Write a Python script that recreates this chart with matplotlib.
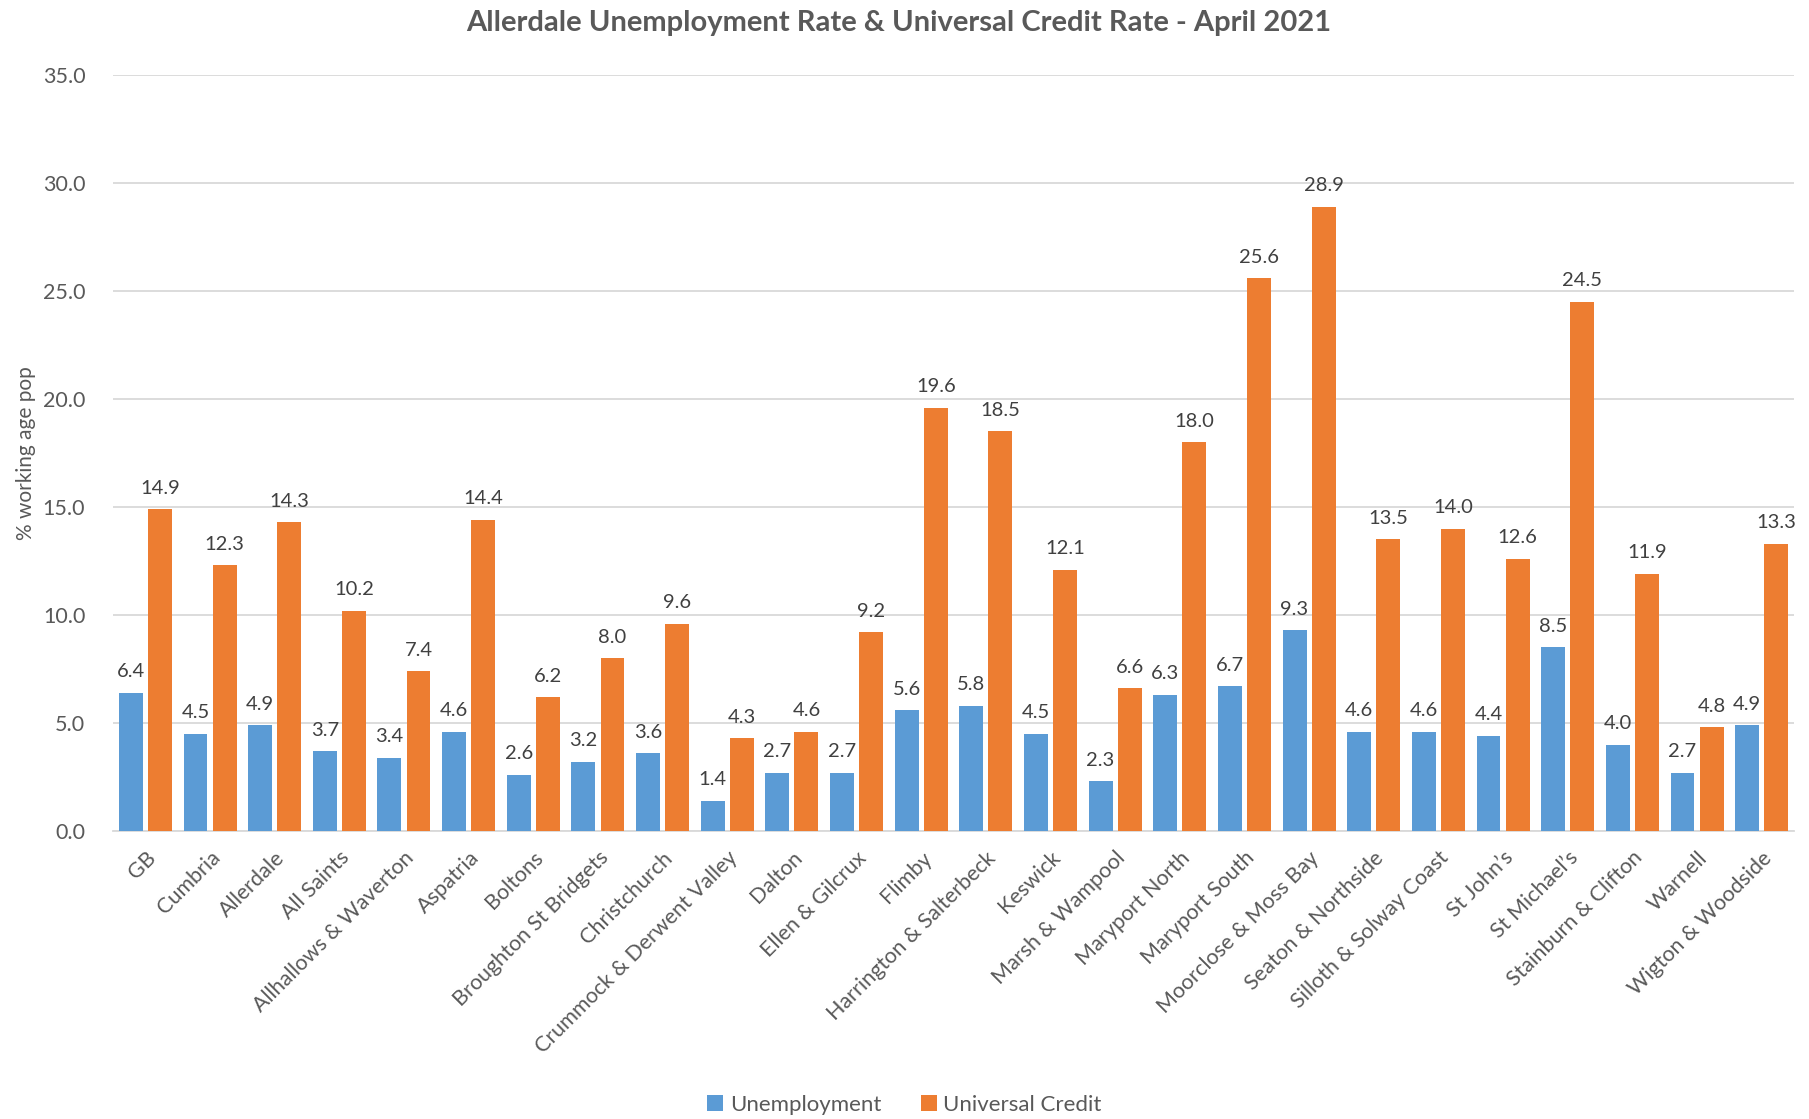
import numpy as np
import matplotlib.pyplot as plt

# data
wards = ['GB', 'Cumbria', 'Allerdale', 'All Saints', 'Allhallows & Waverton',
         'Aspatria', 'Boltons', 'Broughton St Bridgets', 'Christchurch',
         'Crummock & Derwent Valley', 'Dalton', 'Ellen & Gilcrux', 'Flimby',
         'Harrington & Salterbeck', 'Keswick', 'Marsh & Wampool',
         'Maryport North', 'Maryport South', 'Moorclose & Moss Bay',
         'Seaton & Northside', 'Silloth & Solway Coast', 'St John\u2019s',
         'St Michael\u2019s', 'Stainburn & Clifton', 'Warnell', 'Wigton & Woodside']
unemployment = [6.4, 4.5, 4.9, 3.7, 3.4, 4.6, 2.6, 3.2, 3.6, 1.4, 2.7, 2.7, 5.6,
                5.8, 4.5, 2.3, 6.3, 6.7, 9.3, 4.6, 4.6, 4.4, 8.5, 4.0, 2.7, 4.9]
universal_credit = [14.9, 12.3, 14.3, 10.2, 7.4, 14.4, 6.2, 8.0, 9.6, 4.3, 4.6,
                    9.2, 19.6, 18.5, 12.1, 6.6, 18.0, 25.6, 28.9, 13.5, 14.0,
                    12.6, 24.5, 11.9, 4.8, 13.3]

BLUE = '#5B9BD5'
ORANGE = '#ED7D31'
TEXT = '#595959'
GRID = '#D9D9D9'

plt.rcParams['font.family'] = ['Lato', 'DejaVu Sans']

fig = plt.figure(figsize=(18.09, 11.19), dpi=100)
ax = fig.add_axes([0.0625, 0.2574, 0.9292, 0.6756])

x = np.arange(len(wards))
w = 0.37
b1 = ax.bar(x - 0.225, unemployment, w, color=BLUE, label='Unemployment', zorder=3)
b2 = ax.bar(x + 0.225, universal_credit, w, color=ORANGE, label='Universal Credit', zorder=3)

for bars in (b1, b2):
    for rect in bars:
        h = rect.get_height()
        ax.annotate('{:.1f}'.format(h), (rect.get_x() + rect.get_width() / 2, h),
                    xytext=(0, 9), textcoords='offset points', ha='center',
                    va='bottom', fontsize=14.5, color='#404040')

ax.set_xlim(-0.5, len(wards) - 0.5)
ax.set_ylim(0, 35)
ax.set_yticks(np.arange(0, 35.1, 5))
ax.set_yticklabels(['{:.1f}'.format(v) for v in np.arange(0, 35.1, 5)])
ax.yaxis.grid(True, color=GRID, linewidth=1.3, zorder=0)
ax.set_xticks(x)
ax.set_xticklabels(wards, rotation=45, ha='right', rotation_mode='anchor')

for s in ['top', 'right', 'left']:
    ax.spines[s].set_visible(False)
ax.spines['bottom'].set_color(GRID)
ax.spines['bottom'].set_linewidth(1.3)
ax.tick_params(axis='y', length=0, labelsize=15.5, colors=TEXT, pad=20)
ax.tick_params(axis='x', length=0, labelsize=15.5, colors=TEXT, pad=12)

ax.set_ylabel('% working age pop', fontsize=15, color=TEXT)
ax.yaxis.set_label_coords(-0.046, 0.5)

fig.suptitle('Allerdale Unemployment Rate & Universal Credit Rate - April 2021',
             x=0.497, y=0.979, fontsize=21, fontweight='bold', color=TEXT, va='center')

fig.legend(handles=[b1, b2], loc='center', bbox_to_anchor=(0.5, 0.0125),
           ncol=2, frameon=False, fontsize=16, labelcolor=TEXT,
           handlelength=0.7, handleheight=0.7, handletextpad=0.3, columnspacing=1.8)

fig.savefig('out.png', dpi=100)
